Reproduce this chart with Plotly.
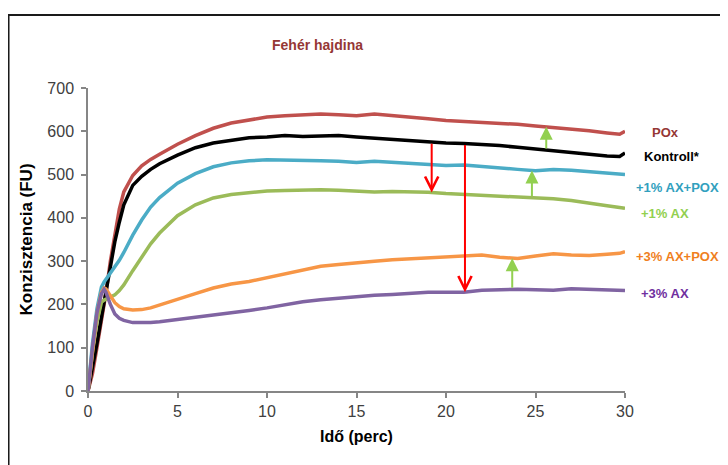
import numpy as np
import plotly.graph_objects as go

time = [0, 0.25, 0.5, 0.75, 0.9, 1, 1.25, 1.5, 1.75, 2, 2.5, 3, 3.5, 4, 5, 6, 7, 8, 9, 10,
        11, 12, 13, 14, 15, 16, 17, 18, 19, 20, 21, 22, 23, 24, 25, 26, 27, 28, 29, 29.7, 30]

pox =      [0, 40, 100, 160, 200, 225, 300, 365, 420, 460, 498, 520, 535, 547, 570, 590, 607, 619, 627, 633,
            636, 638, 640, 638, 636, 640, 637, 633, 629, 625, 623, 620, 618, 616, 612, 609, 605, 601, 596, 593, 600]
kontroll = [0, 50, 110, 170, 205, 230, 290, 345, 390, 430, 475, 496, 512, 525, 545, 562, 573, 580, 585, 587,
            590, 588, 588, 590, 587, 584, 582, 579, 575, 573, 572, 570, 567, 563, 559, 555, 549, 545, 543, 542, 550]
ax1_pox =  [0, 110, 190, 240, 252, 258, 270, 285, 302, 320, 360, 395, 425, 447, 480, 502, 518, 527, 532, 534,
            534, 533, 532, 531, 528, 531, 528, 525, 522, 521, 522, 518, 515, 512, 509, 512, 510, 507, 503, 500, 500]
ax1 =      [0, 90, 160, 205, 210, 212, 215, 222, 232, 245, 278, 310, 340, 365, 405, 430, 446, 454, 459, 462,
            463, 464, 465, 464, 461, 460, 461, 461, 459, 456, 454, 450, 449, 448, 446, 444, 440, 435, 428, 424, 422]
ax3_pox =  [0, 90, 180, 228, 238, 236, 220, 204, 195, 190, 187, 188, 192, 199, 213, 225, 238, 247, 253, 262,
            272, 281, 288, 292, 297, 300, 303, 305, 308, 310, 312, 314, 309, 306, 312, 317, 314, 313, 316, 318, 322]
ax3 =      [0, 100, 180, 225, 235, 228, 200, 178, 168, 163, 158, 157, 158, 160, 165, 170, 175, 181, 186, 192,
            200, 206, 211, 215, 218, 221, 223, 226, 228, 228, 228, 233, 235, 235, 234, 233, 236, 235, 233, 232, 232]

series_names = ["POx", "Kontroll*", "+1% AX+POX", "+1% AX", "+3% AX+POX", "+3% AX"]
series_values = [pox, kontroll, ax1_pox, ax1, ax3_pox, ax3]
line_colors = ["#C0504D", "#000000", "#4BACC6", "#9BBB59", "#F79646", "#8064A2"]
label_colors = ["#953735", "#000000", "#31A0BE", "#92D050", "#F07F1E", "#7030A0"]
label_y = [598, 541, 471, 411, 310, 225]
label_x = [1.046, 1.031, 1.016, 1.027, 1.016, 1.027]

x_ticks = [0, 5, 10, 15, 20, 25, 30]
y_ticks = [0, 100, 200, 300, 400, 500, 600, 700]

# arrows: (time, from series, to series, colour, head style)
arrows = [
    (19.2, "Kontroll*", "+1% AX", "#FF0000", 5),
    (21.06, "Kontroll*", "+3% AX", "#FF0000", 5),
    (25.6, "Kontroll*", "POx", "#92D050", 2),
    (24.8, "+1% AX", "+1% AX+POX", "#92D050", 2),
    (23.7, "+3% AX", "+3% AX+POX", "#92D050", 2),
]

fig = go.Figure()
for name, vals, col in zip(series_names, series_values, line_colors):
    fig.add_trace(go.Scatter(x=time, y=vals, mode="lines", name=name,
                             line=dict(color=col, width=3.5), showlegend=False))

lookup = dict(zip(series_names, series_values))
for t, s_from, s_to, col, head in arrows:
    y0 = float(np.interp(t, time, lookup[s_from]))
    y1 = float(np.interp(t, time, lookup[s_to]))
    fig.add_annotation(x=t, y=y1, ax=t, ay=y0, xref="x", yref="y", axref="x", ayref="y",
                       text="", showarrow=True, arrowhead=head, arrowsize=1.3,
                       arrowwidth=2, arrowcolor=col, standoff=0)

for name, col, ly, lx in zip(series_names, label_colors, label_y, label_x):
    fig.add_annotation(x=lx, y=ly, xref="paper", yref="y", text="<b>%s</b>" % name,
                       showarrow=False, xanchor="left", yanchor="middle",
                       font=dict(family="Liberation Sans", size=13, color=col))

fig.add_annotation(x=0.428, y=1.142, xref="paper", yref="paper", text="<b>Fehér hajdina</b>",
                   showarrow=False, xanchor="center", yanchor="middle",
                   font=dict(family="Liberation Sans", size=14, color="#953735"))

fig.add_shape(type="rect", xref="paper", yref="paper", x0=-0.148, y0=-0.35, x1=1.3, y1=1.241,
              line=dict(color="#1a1a1a", width=2), fillcolor="rgba(0,0,0,0)", layer="below")

axis_common = dict(showgrid=False, zeroline=False, showline=True, linecolor="#868686", linewidth=1.5,
                   ticks="outside", ticklen=5, tickcolor="#868686", tickwidth=1.5,
                   tickfont=dict(family="Liberation Sans", size=16, color="#404040"))

fig.update_layout(
    width=728, height=465,
    margin=dict(l=80, r=111, t=80, b=82),
    paper_bgcolor="white", plot_bgcolor="white",
    xaxis=dict(range=[0, 30], tickvals=x_ticks, **axis_common,
               title=dict(text="<b>Idő (perc)</b>", standoff=12,
                          font=dict(family="Liberation Sans", size=16, color="#000000"))),
    yaxis=dict(range=[0, 700], tickvals=y_ticks, ticklabelstandoff=4, **axis_common,
               title=dict(text="<b>Konzisztencia (FU)</b>", standoff=10,
                          font=dict(family="Liberation Sans", size=17, color="#000000"))),
)

fig.write_html("out.html")
